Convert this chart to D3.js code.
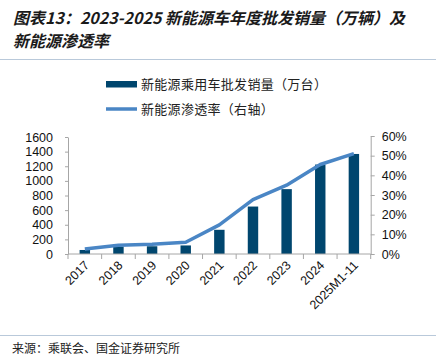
<!DOCTYPE html>
<html><head><meta charset="utf-8">
<script src="https://cdn.jsdelivr.net/npm/d3@7"></script>
<style>body{margin:0;background:#fff}svg{display:block}</style>
</head><body>
<svg id="c" width="436" height="362"></svg>
<script>
const categories = ["2017","2018","2019","2020","2021","2022","2023","2024","2025M1-11"];
const salesValues = [55, 101, 106, 117, 331, 649, 887, 1223, 1368];
const penetrationValues = [2.6, 4.5, 5.0, 6.0, 14.8, 27.6, 35.0, 45.5, 51.0];
const leftTicks = [0,200,400,600,800,1000,1200,1400,1600];
const rightTicks = [0,10,20,30,40,50,60];
const titleLines = ["图表13：2023-2025 新能源车年度批发销量（万辆）及","新能源渗透率"];
const legendLabels = ["新能源乘用车批发销量（万台）","新能源渗透率（右轴）"];
const sourceText = "来源：乘联会、国金证券研究所";

const svg = d3.select("#c");
const barColor = "#00466e", lineColor = "#4a86c5", axisColor = "#a6a6a6";
const cjk = "'Noto Sans CJK SC', sans-serif";
const lat = "'Liberation Sans', Arial, sans-serif";

// title
svg.selectAll("text.title").data(titleLines).join("text")
  .attr("x", 13).attr("y", (d,i)=> 24 + i*23)
  .attr("font-family", cjk).attr("font-size", 16).attr("font-style","italic").attr("font-weight","bold")
  .attr("fill","#1a1a1a").text(d=>d);
svg.append("line").attr("x1",0).attr("x2",436).attr("y1",59.5).attr("y2",59.5).attr("stroke","#b9c9da").attr("stroke-width",1.2);

// legend
svg.append("rect").attr("x",106).attr("y",81).attr("width",31).attr("height",6.5).attr("fill",barColor);
svg.append("line").attr("x1",106).attr("x2",137).attr("y1",109).attr("y2",109).attr("stroke",lineColor).attr("stroke-width",3.5);
svg.selectAll("text.leg").data(legendLabels).join("text")
  .attr("x",141).attr("y",(d,i)=>88.5+i*25)
  .attr("font-family",cjk).attr("font-size",13).attr("fill","#222").attr("letter-spacing",0.3).text(d=>d);

// scales
const x = d3.scaleBand().domain(categories).range([68, 370.7]).paddingInner(0.69).paddingOuter(0.345);
const xb = d3.scaleBand().domain(categories).range([68, 370.7]);
const yL = d3.scaleLinear().domain([0,1600]).range([254,137]);
const yR = d3.scaleLinear().domain([0,60]).range([254,136]);

// bars
svg.selectAll("rect.bar").data(categories).join("rect")
  .attr("x", d=>x(d)).attr("width", x.bandwidth())
  .attr("y", (d,i)=>yL(salesValues[i])).attr("height",(d,i)=>yL(0)-yL(salesValues[i]))
  .attr("fill", barColor);

// left axis
const gL = svg.append("g").attr("transform","translate(68,0)")
  .call(d3.axisLeft(yL).tickValues(leftTicks).tickSize(3).tickSizeOuter(0).tickPadding(12).tickFormat(d=>String(d)));
gL.select(".domain").attr("stroke",axisColor);
gL.selectAll(".tick line").attr("stroke",axisColor);
gL.selectAll("text").attr("font-family",lat).attr("font-size",12.5).attr("fill","#111");

// right axis
const gR = svg.append("g").attr("transform","translate(370.7,0)")
  .call(d3.axisRight(yR).tickValues(rightTicks).tickSize(4).tickSizeOuter(0).tickPadding(7).tickFormat(d=>d+"%"));
gR.select(".domain").attr("stroke",axisColor);
gR.selectAll(".tick line").attr("stroke",axisColor);
gR.selectAll("text").attr("font-family",lat).attr("font-size",12.5).attr("fill","#111");

// x axis
const gX = svg.append("g").attr("transform","translate(0,254)");
gX.append("line").attr("x1",68).attr("x2",370.7).attr("stroke",axisColor);
const bounds = categories.map(d=>xb(d)).concat([xb(categories[categories.length-1])+xb.bandwidth()]);
gX.selectAll("line.tk").data(bounds).join("line")
  .attr("x1",d=>d).attr("x2",d=>d).attr("y1",0).attr("y2",5).attr("stroke",axisColor);
gX.selectAll("text").data(categories).join("text")
  .attr("text-anchor","end")
  .attr("transform", d=>`translate(${xb(d)+xb.bandwidth()/2+5},${12}) rotate(-45)`)
  .attr("font-family",lat).attr("font-size",12.5).attr("fill","#111").text(d=>d);

// line
const line = d3.line().x((d,i)=>xb(categories[i])+xb.bandwidth()/2).y(d=>yR(d));
svg.append("path").datum(penetrationValues).attr("d",line)
  .attr("fill","none").attr("stroke",lineColor).attr("stroke-width",3.5).attr("stroke-linejoin","round");

// source
svg.append("line").attr("x1",0).attr("x2",436).attr("y1",335.5).attr("y2",335.5).attr("stroke","#b9c9da").attr("stroke-width",1.2);
svg.append("text").attr("x",12).attr("y",353).attr("font-family",cjk).attr("font-size",12).attr("fill","#222").text(sourceText);
</script>
</body></html>
